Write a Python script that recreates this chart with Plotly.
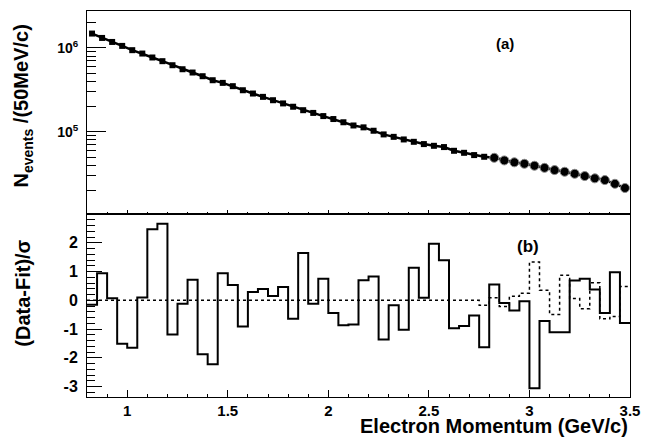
import numpy as np
import plotly.graph_objects as go

# ---- data ----
bin_width = 0.05
p_min, p_max = 0.8, 3.5
n_bins = 54
edges = np.round(p_min + bin_width * np.arange(n_bins + 1), 3)
centers = np.round(edges[:-1] + bin_width / 2, 3)

counts = [1483000, 1315000, 1178000, 1057000, 940000, 857000, 769000, 695000, 622000, 557000,
          509000, 460000, 412000, 383000, 350000, 313000, 286000, 261000, 238000, 218000,
          199000, 181000, 168000, 154000, 142000, 130000, 119000, 113000, 103000, 93100,
          87100, 81100, 76000, 71400, 68100, 65800, 59400, 56200, 52800, 50400,
          49000, 45600, 43300, 41600, 39400, 37200, 35000, 33400, 31600, 29700,
          27900, 26600, 24000, 21400]

resid_main = [-0.15, 0.94, 0.07, -1.51, -1.65, 0.10, 2.47, 2.66, -1.19, -0.12,
              0.72, -1.87, -2.22, 0.94, 0.53, -0.91, 0.29, 0.39, 0.15, 0.46,
              -0.64, 1.65, -0.12, 0.75, -0.44, -0.87, -0.84, 0.70, 0.83, -1.36,
              -0.17, -1.02, 1.13, 0.09, 1.97, 1.39, -0.97, -0.89, -0.53, -1.63,
              0.55, -0.09, -0.35, -0.03, -3.06, -0.72, -1.11, -1.11, 0.69, 0.75,
              0.38, -0.44, 0.98, -0.79]

resid_alt = [0.0] * 39 + [-0.17, 0.09, -0.21, 0.14, 0.25, 1.33, 0.35, -0.49, 0.87, 0.06,
                          -0.29, 0.61, -0.64, -0.56, 0.48]

split = 40  # bins drawn with open/filled circles from here on

FONT = "Liberation Sans, Arial, Helvetica, sans-serif"

fig = go.Figure()

# top panel
fig.add_trace(go.Scatter(x=centers, y=counts, mode="lines",
                         line=dict(color="black", width=2.5),
                         xaxis="x", yaxis="y", showlegend=False, hoverinfo="skip"))
fig.add_trace(go.Scatter(x=centers[:split], y=counts[:split], mode="markers",
                         marker=dict(symbol="square", size=6, color="black"),
                         xaxis="x", yaxis="y", showlegend=False))
fig.add_trace(go.Scatter(x=centers[split:], y=counts[split:], mode="markers",
                         marker=dict(symbol="circle", size=9, color="black",
                                     line=dict(color="#8a8a8a", width=1)),
                         xaxis="x", yaxis="y", showlegend=False))

# bottom panel
fig.add_trace(go.Scatter(x=edges, y=resid_alt + [resid_alt[-1]], mode="lines",
                         line=dict(color="black", width=1.5, dash="dot", shape="hv"),
                         xaxis="x2", yaxis="y2", showlegend=False))
fig.add_trace(go.Scatter(x=edges, y=resid_main + [resid_main[-1]], mode="lines",
                         line=dict(color="black", width=2, shape="hv"),
                         xaxis="x2", yaxis="y2", showlegend=False))

split_frac = 0.474
minor_log = [2e4, 3e4, 4e4, 5e4, 6e4, 7e4, 8e4, 9e4,
             2e5, 3e5, 4e5, 5e5, 6e5, 7e5, 8e5, 9e5, 2e6]

common_x = dict(range=[p_min, p_max], showgrid=False, zeroline=False, automargin=False,
                showline=True, mirror=True, linecolor="black", linewidth=1,
                ticks="inside", tickcolor="black", tick0=0, dtick=0.5)

# page has an 8px body margin, so the figure is sized/offset to compensate
fig.update_layout(
    template="none",
    width=647, height=431,
    margin=dict(l=79, r=25, t=3, b=42, autoexpand=False),
    paper_bgcolor="white", plot_bgcolor="white",
    font=dict(family=FONT, color="black"),
    xaxis=dict(**common_x, anchor="y", domain=[0, 1], showticklabels=False,
               ticklen=4, minor=dict(ticks="inside", dtick=0.1, ticklen=2.5, tickcolor="black")),
    yaxis=dict(type="log", range=[4.02, 6.44], domain=[split_frac, 1], anchor="x",
               automargin=False, ticklabelstandoff=5,
               showgrid=False, zeroline=False, showline=True, mirror=True,
               linecolor="black", linewidth=1, ticks="inside", ticklen=19, tickcolor="black",
               tickmode="array", tickvals=[1e5, 1e6],
               ticktext=["10<sup>5</sup>", "10<sup>6</sup>"],
               tickfont=dict(size=14, family=FONT, weight="bold"),
               minor=dict(ticks="inside", tickmode="array", tickvals=minor_log,
                          ticklen=9, tickcolor="black", showgrid=False)),
    xaxis2=dict(**common_x, anchor="y2", domain=[0, 1], ticklen=7,
                tickmode="array", tickvals=[1, 1.5, 2, 2.5, 3, 3.5],
                ticktext=["1", "1.5", "2", "2.5", "3", "3.5"],
                tickfont=dict(size=15, family=FONT, weight="bold"),
                minor=dict(ticks="inside", dtick=0.1, ticklen=3.5, tickcolor="black")),
    yaxis2=dict(range=[-3.36, 3.0], domain=[0, split_frac], anchor="x2",
                automargin=False, ticklabelstandoff=5,
                showgrid=False, zeroline=False, showline=True, mirror=True,
                linecolor="black", linewidth=1, ticks="inside", ticklen=15, tickcolor="black",
                tickmode="array", tickvals=[-3, -2, -1, 0, 1, 2],
                ticktext=["-3", "-2", "-1", "0", "1", "2"],
                tickfont=dict(size=16, family=FONT, weight="bold"),
                minor=dict(ticks="inside", dtick=0.2, tick0=0, ticklen=8, tickcolor="black")),
)

annots = [
    dict(text="(a)", x=0.77, y=0.915, size=15),
    dict(text="(b)", x=0.812, y=0.389, size=17),
]
for a in annots:
    fig.add_annotation(text=a["text"], x=a["x"], y=a["y"], xref="paper", yref="paper",
                       showarrow=False, xanchor="center", yanchor="middle",
                       font=dict(size=a["size"], family=FONT, weight="bold"))

fig.add_annotation(text="N<sub>events</sub> /(50MeV/c)", x=-0.118, y=0.755,
                   xref="paper", yref="paper", showarrow=False, textangle=-90,
                   xanchor="center", yanchor="middle",
                   font=dict(size=20, family=FONT, weight="bold"))
fig.add_annotation(text="(Data-Fit)/σ", x=-0.118, y=0.27,
                   xref="paper", yref="paper", showarrow=False, textangle=-90,
                   xanchor="center", yanchor="middle",
                   font=dict(size=20, family=FONT, weight="bold"))
fig.add_annotation(text="Electron Momentum (GeV/c)", x=1.0, y=-0.076,
                   xref="paper", yref="paper", showarrow=False,
                   xanchor="right", yanchor="middle",
                   font=dict(size=20, family=FONT, weight="bold"))

fig.write_html("out.html")
